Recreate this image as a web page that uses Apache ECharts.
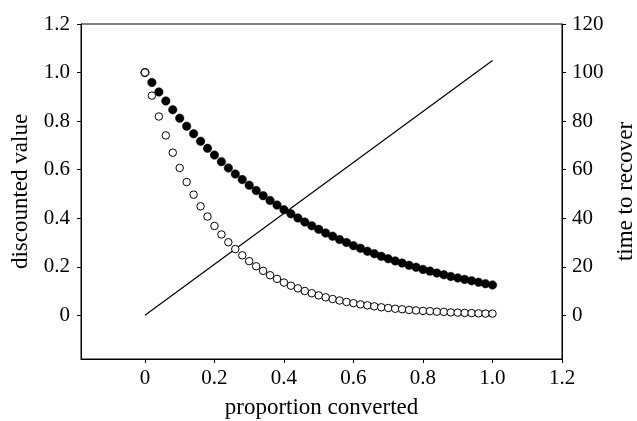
<!DOCTYPE html>
<html>
<head>
<meta charset="utf-8">
<script src="https://cdn.jsdelivr.net/npm/echarts@6/dist/echarts.min.js"></script>
<style>html,body{margin:0;padding:0;background:#fff;}#c{width:637px;height:421px;}</style>
</head>
<body>
<div id="c"></div>
<script>
const xValues = [0,0.02,0.04,0.06,0.08,0.10,0.12,0.14,0.16,0.18,0.20,0.22,0.24,0.26,0.28,0.30,0.32,0.34,0.36,0.38,0.40,0.42,0.44,0.46,0.48,0.50,0.52,0.54,0.56,0.58,0.60,0.62,0.64,0.66,0.68,0.70,0.72,0.74,0.76,0.78,0.80,0.82,0.84,0.86,0.88,0.90,0.92,0.94,0.96,0.98,1.00];
const filledValues = [1.000,0.959,0.920,0.883,0.847,0.812,0.779,0.748,0.717,0.688,0.660,0.633,0.607,0.582,0.559,0.536,0.514,0.493,0.473,0.454,0.435,0.418,0.401,0.384,0.369,0.354,0.339,0.326,0.312,0.300,0.287,0.276,0.264,0.254,0.243,0.233,0.224,0.215,0.206,0.198,0.189,0.182,0.174,0.167,0.160,0.154,0.148,0.142,0.136,0.130,0.125];
const openValues = [1.000,0.905,0.819,0.741,0.670,0.607,0.549,0.497,0.449,0.407,0.368,0.333,0.301,0.273,0.247,0.223,0.202,0.183,0.165,0.150,0.135,0.122,0.111,0.100,0.091,0.082,0.074,0.067,0.061,0.055,0.050,0.045,0.041,0.037,0.033,0.030,0.027,0.025,0.022,0.020,0.018,0.017,0.015,0.014,0.012,0.011,0.010,0.009,0.008,0.007,0.007];
const lineX = [0, 1.0];
const lineY = [0, 105];
const xTicks = [0,0.2,0.4,0.6,0.8,1.0,1.2];
const yLeftTicks = [0,0.2,0.4,0.6,0.8,1.0,1.2];
const yRightTicks = [0,20,40,60,80,100,120];

const font = 'Liberation Serif, Times New Roman, serif';
const fmt1 = v => Math.abs(v) < 1e-9 ? '0' : v.toFixed(1);
const tickStyle = vals => ({show: true, length: 4, lineStyle: {color: '#000', width: 1}, customValues: vals});
const lineSty = {show: true, onZero: false, lineStyle: {color: '#000', width: 1}};
const nameSty = {fontFamily: font, fontSize: 23, color: '#000'};
const labSty = {fontFamily: font, fontSize: 21, color: '#000'};
const chart = echarts.init(document.getElementById('c'), null, {renderer: 'canvas'});
chart.setOption({
  animation: false,
  backgroundColor: '#fff',
  grid: {left: 81, right: 75, top: 24, bottom: 62, outerBoundsMode: 'none', containLabel: false, show: true, borderColor: '#000', borderWidth: 1, backgroundColor: 'transparent'},
  xAxis: {
    type: 'value', min: -0.184, max: 1.2,
    axisLine: lineSty, splitLine: {show: false},
    name: 'proportion converted', nameLocation: 'middle', nameGap: 37, nameTextStyle: nameSty,
    axisTick: tickStyle(xTicks),
    axisLabel: Object.assign({customValues: xTicks, formatter: fmt1, margin: 9}, labSty)
  },
  yAxis: [
    {
      type: 'value', min: -0.18, max: 1.2, position: 'left',
      axisLine: lineSty, splitLine: {show: false},
      name: 'discounted value', nameLocation: 'middle', nameGap: 41, nameTextStyle: nameSty,
      axisTick: tickStyle(yLeftTicks),
      axisLabel: Object.assign({customValues: yLeftTicks, formatter: fmt1, margin: 11}, labSty)
    },
    {
      type: 'value', min: -18, max: 120, position: 'right',
      axisLine: lineSty, splitLine: {show: false},
      name: 'time to recover', nameLocation: 'middle', nameGap: 44, nameRotate: 90, nameTextStyle: nameSty,
      axisTick: tickStyle(yRightTicks),
      axisLabel: Object.assign({customValues: yRightTicks, formatter: v => String(Math.round(v)), margin: 10}, labSty)
    }
  ],
  series: [
    {
      type: 'line', yAxisIndex: 1, data: lineX.map((x, i) => [x, lineY[i]]),
      showSymbol: false, symbol: 'none', lineStyle: {color: '#000', width: 1.2}, z: 1
    },
    {
      type: 'scatter', yAxisIndex: 0, data: xValues.map((x, i) => [x, filledValues[i]]),
      symbol: 'circle', symbolSize: 8.5, itemStyle: {color: '#000', borderColor: '#000', borderWidth: 0.5, opacity: 1}, z: 2
    },
    {
      type: 'scatter', yAxisIndex: 0, data: xValues.map((x, i) => [x, openValues[i]]),
      symbol: 'circle', symbolSize: 7.5, itemStyle: {color: '#fff', borderColor: '#000', borderWidth: 1, opacity: 1}, z: 3
    }
  ]
});
</script>
</body>
</html>
